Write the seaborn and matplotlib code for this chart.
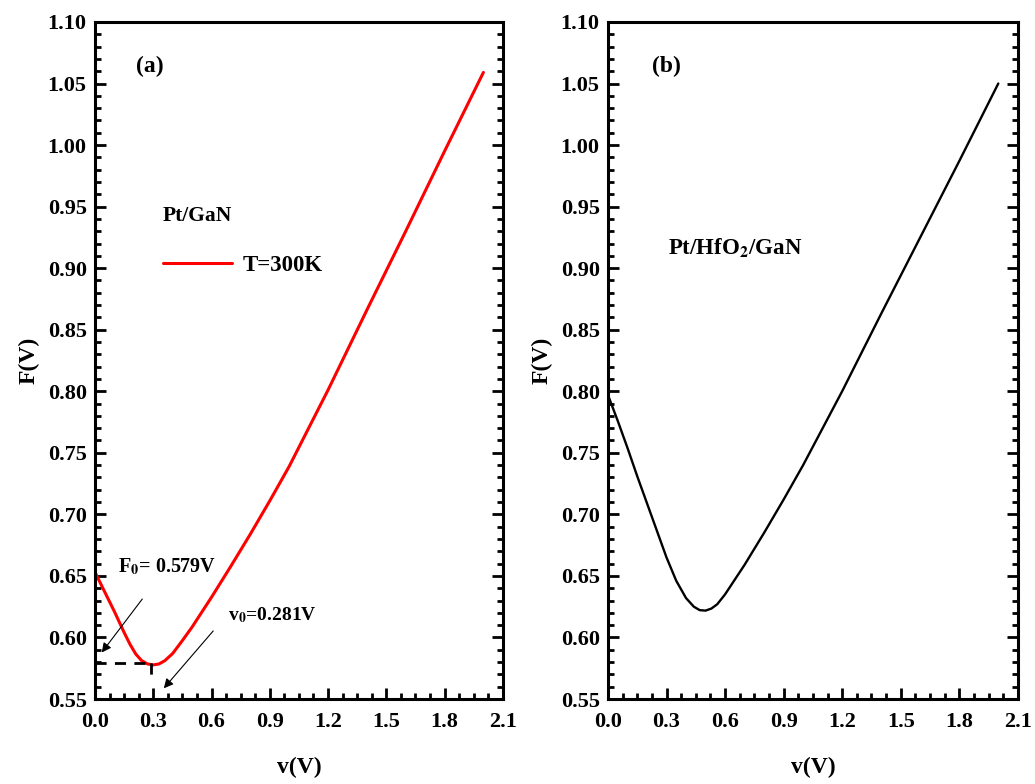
import pandas as pd
import seaborn as sns
import matplotlib.pyplot as plt
from matplotlib.ticker import MultipleLocator

# кривые F(V)
v_a = [0.00, 0.05, 0.10, 0.15, 0.18, 0.21, 0.24, 0.27, 0.30, 0.33, 0.36, 0.40, 0.45,
       0.50, 0.60, 0.70, 0.80, 0.90, 1.00, 1.20, 1.40, 1.60, 1.80, 2.00]
F_a = [0.653, 0.637, 0.621, 0.604, 0.5945, 0.5865, 0.5812, 0.5785, 0.5777, 0.5785,
       0.5812, 0.5870, 0.5975, 0.6085, 0.6327, 0.658, 0.684, 0.711, 0.739, 0.801,
       0.866, 0.930, 0.995, 1.059]

v_b = [0.00, 0.05, 0.10, 0.15, 0.20, 0.25, 0.30, 0.35, 0.40, 0.44, 0.47, 0.50, 0.53,
       0.56, 0.60, 0.70, 0.80, 0.90, 1.00, 1.20, 1.40, 1.60, 1.80, 2.00]
F_b = [0.797, 0.776, 0.754, 0.731, 0.709, 0.687, 0.665, 0.646, 0.632, 0.625, 0.6222,
       0.6218, 0.6235, 0.627, 0.635, 0.659, 0.685, 0.712, 0.740, 0.800, 0.863, 0.925,
       0.987, 1.050]

F0 = 0.579
v0 = 0.281
x_ticks = [0.0, 0.3, 0.6, 0.9, 1.2, 1.5, 1.8, 2.1]
y_ticks = [0.55, 0.60, 0.65, 0.70, 0.75, 0.80, 0.85, 0.90, 0.95, 1.00, 1.05, 1.10]

df_a = pd.DataFrame({'v': v_a, 'F': F_a})
df_b = pd.DataFrame({'v': v_b, 'F': F_b})

sns.set_style('ticks')
plt.rcParams['font.family'] = ['Liberation Serif', 'DejaVu Serif']
plt.rcParams['font.weight'] = 'bold'
plt.rcParams['mathtext.fontset'] = 'stix'
plt.rcParams['text.color'] = 'black'

fig = plt.figure(figsize=(10.35, 7.84), dpi=100)
ax1 = fig.add_axes([0.0918, 0.1084, 0.394, 0.8636])
ax2 = fig.add_axes([0.5874, 0.1084, 0.396, 0.8636])

sns.lineplot(data=df_a, x='v', y='F', ax=ax1, color='#ff0000', lw=2.2, label='T=300K')
sns.lineplot(data=df_b, x='v', y='F', ax=ax2, color='black', lw=1.7)

for ax in (ax1, ax2):
    ax.set_xlim(0, 2.1)
    ax.set_ylim(0.55, 1.10)
    ax.set_xticks(x_ticks)
    ax.set_yticks(y_ticks)
    ax.set_xticklabels([f'{t:.1f}' for t in x_ticks])
    ax.set_yticklabels([f'{t:.2f}' for t in y_ticks])
    ax.xaxis.set_minor_locator(MultipleLocator(0.075))
    ax.yaxis.set_minor_locator(MultipleLocator(0.01))
    ax.tick_params(which='both', direction='in', right=True, top=False, width=2, color='black')
    ax.tick_params(which='major', length=8, labelsize=16, pad=6, labelcolor='black')
    ax.tick_params(axis='x', which='major', pad=9)
    ax.tick_params(which='minor', length=4)
    for lab in ax.get_xticklabels() + ax.get_yticklabels():
        lab.set_fontweight('bold')
    for sp in ax.spines.values():
        sp.set_linewidth(2.2)
        sp.set_color('black')
        sp.set_visible(True)
    ax.set_xlabel('v(V)', fontsize=17, fontweight='bold', labelpad=18, color='black')
    ax.set_ylabel('F(V)', fontsize=17, fontweight='bold', labelpad=6, color='black')

# панель (a)
ax1.legend(loc='center left', bbox_to_anchor=(0.167, 0.641), frameon=False,
           borderaxespad=0, borderpad=0, handlelength=3.0, handletextpad=0.45,
           prop={'size': 16.5, 'weight': 'bold'})
ax1.text(0.10, 0.934, '(a)', transform=ax1.transAxes, fontsize=17, fontweight='bold', va='center')
ax1.text(0.167, 0.713, 'Pt/GaN', transform=ax1.transAxes, fontsize=15.5, fontweight='bold', va='center')

ax1.plot([0, 0.29], [F0, F0], color='black', lw=2, ls=(0, (4, 3)))
ax1.plot([0.29, 0.29], [F0, 0.567], color='black', lw=2, ls=(0, (4, 3)))
ax1.text(0.118, 0.657, r'F$_{\mathbf{0}}$= 0.579V', fontsize=14.5, fontweight='bold', va='center')
ax1.text(0.685, 0.618, r'v$_{\mathbf{0}}$=0.281V', fontsize=14, fontweight='bold', va='center')
arrow = dict(arrowstyle='-|>', lw=0.8, color='black', mutation_scale=14)
ax1.annotate('', xy=(0.026, 0.586), xytext=(0.252, 0.633), arrowprops=arrow)
ax1.annotate('', xy=(0.345, 0.557), xytext=(0.618, 0.607), arrowprops=arrow)

# панель (b)
ax2.text(0.107, 0.934, '(b)', transform=ax2.transAxes, fontsize=17, fontweight='bold', va='center')
ax2.text(0.146, 0.666, r'Pt/HfO$_{\mathbf{2}}$/GaN', transform=ax2.transAxes,
         fontsize=16.5, fontweight='bold', va='center')

plt.savefig('out.png', dpi=100)
